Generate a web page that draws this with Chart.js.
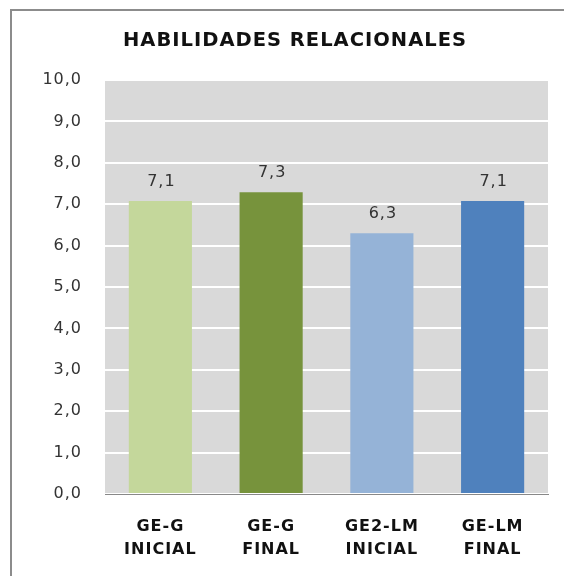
<!DOCTYPE html>
<html>
<head>
<meta charset="utf-8">
<script src="https://cdn.jsdelivr.net/npm/chart.js@4"></script>
<style>
  html, body { margin: 0; background: #fff; overflow: hidden; width: 564px; height: 576px; }
  #frame { position: absolute; left: 10px; top: 9px; width: 800px; height: 800px;
           border-left: 2px solid #8c8c8c; border-top: 2px solid #8c8c8c; }
  #box { position: absolute; left: 0; top: 0; width: 564px; height: 576px; }
</style>
</head>
<body>
<div id="frame"></div>
<div id="box"><canvas id="habilidades_chart"></canvas></div>
<script>
// data
const categories = [["GE-G", "INICIAL"], ["GE-G", "FINAL"], ["GE2-LM", "INICIAL"], ["GE-LM", "FINAL"]];
const values = [7.08, 7.29, 6.3, 7.08];
const barColors = ["#c4d79b", "#77933c", "#95b3d7", "#4f81bd"];
const yTicks = [0, 1, 2, 3, 4, 5, 6, 7, 8, 9, 10];
const chartTitle = "HABILIDADES RELACIONALES";

const fmt = (v) => v.toFixed(1).replace(".", ",");

// the original picture is a bit stretched sideways, so widen the text a little
const spacing = {
  id: "spacing",
  beforeLayout(chart) { chart.ctx.letterSpacing = "1px"; },
  beforeDraw(chart) { chart.ctx.letterSpacing = "1px"; }
};

// grey plot background
const plotBg = {
  id: "plotBg",
  beforeDraw(chart) {
    const a = chart.chartArea;
    const c = chart.ctx;
    c.save();
    c.fillStyle = "#d9d9d9";
    c.fillRect(a.left, a.top, a.right - a.left, a.bottom - a.top);
    c.restore();
  }
};

// value labels above the bars
const barValues = {
  id: "barValues",
  afterDatasetsDraw(chart) {
    const c = chart.ctx;
    const meta = chart.getDatasetMeta(0);
    c.save();
    c.font = "16px 'DejaVu Sans'";
    c.fillStyle = "#333";
    c.textAlign = "center";
    c.textBaseline = "middle";
    meta.data.forEach((bar, i) => {
      c.fillText(fmt(values[i]), bar.x + 1, bar.y - 19);
    });
    c.restore();
  }
};

const ctx = document.getElementById("habilidades_chart").getContext("2d");
const my_chart = new Chart(ctx, {
  type: "bar",
  data: {
    labels: categories,
    datasets: [{
      data: values,
      backgroundColor: barColors,
      borderWidth: 0,
      barPercentage: 0.57,
      categoryPercentage: 1
    }]
  },
  options: {
    responsive: true,
    maintainAspectRatio: false,
    animation: false,
    layout: { padding: { left: 42, right: 16, top: 0, bottom: 0 } },
    plugins: {
      legend: { display: false },
      tooltip: { enabled: false },
      title: {
        display: true,
        text: chartTitle,
        color: "#111",
        font: { family: "'DejaVu Sans'", size: 19.5, weight: "bold", lineHeight: 1.2 },
        padding: { top: 29, bottom: 27.6 }
      }
    },
    scales: {
      x: {
        afterFit(scale) { scale.height = 82; },
        grid: { display: false, drawTicks: false },
        border: { display: true, color: "#888", width: 1 },
        ticks: {
          color: "#111",
          padding: 22,
          maxRotation: 0,
          font: { family: "'DejaVu Sans'", size: 16, weight: "bold", lineHeight: 1.4 }
        }
      },
      y: {
        min: 0,
        max: 10,
        afterFit(scale) { scale.width = 63; },
        afterBuildTicks(scale) { scale.ticks = yTicks.map(v => ({ value: v })); },
        grid: { color: "#ffffff", lineWidth: 2, drawTicks: false },
        border: { display: false },
        ticks: {
          color: "#333",
          padding: 23,
          font: { family: "'DejaVu Sans'", size: 16 },
          callback: (v) => fmt(v)
        }
      }
    }
  },
  plugins: [spacing, plotBg, barValues]
});
</script>
</body>
</html>
